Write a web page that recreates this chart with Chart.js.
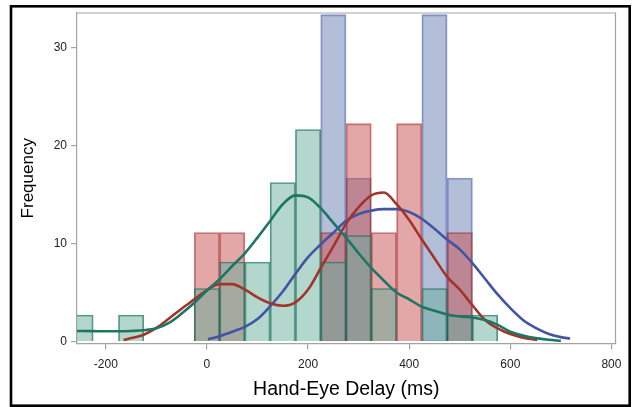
<!DOCTYPE html>
<html>
<head>
<meta charset="utf-8">
<script src="https://cdn.jsdelivr.net/npm/chart.js@4/dist/chart.umd.min.js"></script>
<style>
  html, body { margin: 0; padding: 0; background: #ffffff; }
  #wrap { width: 632px; height: 407px; position: relative; }
</style>
</head>
<body>
<div id="wrap"><canvas id="chart" width="632" height="407"></canvas></div>
<script>
// Histogram bins (centre of each 50 ms bin) and percent of trials per group
const binCenters = [-250, -200, -150, -100, -50, 0, 50, 100, 150, 200, 250, 300, 350, 400, 450, 500, 550];
const tealPct = [2.70, 0, 2.70, 0, 0, 5.41, 8.11, 8.11, 16.22, 21.62, 8.11, 10.81, 5.41, 0, 5.41, 2.70, 2.70];
const redPct  = [0, 0, 0, 0, 0, 11.11, 11.11, 0, 0, 0, 11.11, 22.22, 11.11, 22.22, 0, 11.11, 0];
const bluePct = [0, 0, 0, 0, 0, 0, 0, 0, 0, 0, 33.33, 16.67, 0, 0, 33.33, 16.67, 0];

// Density curves, sampled along the delay axis
const tealCurveX = [-257, -225, -200, -175, -150, -125, -100, -75, -50, -25, 0, 25, 50, 75, 100, 125, 150, 175, 200, 225, 250, 275, 300, 325, 350, 375, 400, 425, 450, 475, 500, 525, 550, 575, 600, 625, 650, 675, 700];
const tealCurveY = [1.07, 1.06, 1.05, 1.05, 1.08, 1.15, 1.35, 1.9, 2.85, 3.95, 5.2, 6.35, 7.7, 9.0, 10.6, 12.3, 14.0, 14.9, 14.7, 13.6, 12.1, 10.6, 9.0, 7.5, 6.2, 5.0, 4.3, 3.55, 3.15, 2.75, 2.55, 2.45, 2.2, 1.7, 1.0, 0.62, 0.35, 0.18, 0.08];

const redCurveX = [-165, -150, -125, -100, -75, -50, -25, 0, 25, 50, 75, 100, 125, 150, 175, 200, 225, 250, 275, 300, 325, 350, 375, 400, 425, 450, 475, 500, 525, 550, 575, 600, 625, 653];
const redCurveY = [0.15, 0.35, 0.7, 1.4, 2.35, 3.35, 4.3, 5.25, 5.85, 5.85, 5.3, 4.5, 3.9, 3.65, 4.0, 5.3, 7.5, 9.7, 12.0, 13.7, 14.9, 15.2, 14.0, 12.4, 10.4, 8.5, 6.6, 5.3, 3.7, 2.2, 1.35, 0.76, 0.4, 0.15];

const blueCurveX = [2, 25, 50, 75, 100, 125, 150, 175, 200, 225, 250, 275, 300, 325, 350, 375, 400, 425, 450, 475, 500, 525, 550, 575, 600, 625, 650, 675, 700, 718];
const blueCurveY = [0.22, 0.55, 1.0, 1.5, 2.3, 3.6, 5.1, 6.9, 8.6, 9.9, 11.1, 12.3, 13.0, 13.35, 13.5, 13.5, 13.2, 12.5, 11.5, 10.4, 9.4, 8.0, 6.4, 4.8, 3.4, 2.2, 1.4, 0.8, 0.45, 0.3];

// Axis ticks
const xTicks = [-200, 0, 200, 400, 600, 800];
const yTicks = [0, 10, 20, 30];

const toBars = (vals) => binCenters
  .map((c, i) => ({ x: c, y: vals[i] }))
  .filter(p => p.y > 0);
const toCurve = (xs, ys) => xs.map((x, i) => ({ x: x, y: ys[i] }));

const curveStyle = {
  type: 'line',
  pointRadius: 0,
  borderWidth: 2.6,
  fill: false,
  tension: 0.4,
  cubicInterpolationMode: 'monotone',
  clip: 0
};
const barStyle = {
  type: 'bar',
  grouped: false,
  borderWidth: 1.2,
  barPercentage: 1,
  categoryPercentage: 1,
  borderSkipped: 'bottom',
  clip: 0
};

// Frame around the plot area and the outer black border
const frames = {
  id: 'frames',
  afterDraw(chart) {
    const { ctx, chartArea: a } = chart;
    ctx.save();
    ctx.strokeStyle = '#a3a3a3';
    ctx.lineWidth = 1.2;
    ctx.beginPath();
    ctx.moveTo(a.left, a.top);
    ctx.lineTo(a.right, a.top);
    ctx.lineTo(a.right, a.bottom);
    ctx.stroke();
    ctx.strokeStyle = '#000000';
    ctx.lineWidth = 2.6;
    ctx.strokeRect(11.0, 6.3, 618.7, 399.4);
    ctx.restore();
  }
};

const tickFont = { family: 'Liberation Sans', size: 12 };

new Chart(document.getElementById('chart'), {
  type: 'bar',
  data: {
    datasets: [
      Object.assign({}, curveStyle, { label: 'Teal density', data: toCurve(tealCurveX, tealCurveY), borderColor: 'rgb(30,118,98)', order: 1 }),
      Object.assign({}, curveStyle, { label: 'Red density', data: toCurve(redCurveX, redCurveY), borderColor: 'rgb(163,52,42)', order: 2 }),
      Object.assign({}, curveStyle, { label: 'Blue density', data: toCurve(blueCurveX, blueCurveY), borderColor: 'rgb(68,84,165)', order: 3 }),
      Object.assign({}, barStyle, { label: 'Teal', data: toBars(tealPct), backgroundColor: 'rgba(103,174,156,0.5)', borderColor: 'rgba(20,105,85,0.7)', order: 4 }),
      Object.assign({}, barStyle, { label: 'Red', data: toBars(redPct), backgroundColor: 'rgba(200,80,80,0.5)', borderColor: 'rgba(160,30,30,0.6)', order: 5 }),
      Object.assign({}, barStyle, { label: 'Blue', data: toBars(bluePct), backgroundColor: 'rgba(103,125,180,0.5)', borderColor: 'rgba(60,80,170,0.6)', order: 6 })
    ]
  },
  options: {
    responsive: false,
    animation: false,
    events: [],
    layout: { padding: { left: 10, top: 13, right: 16.5, bottom: 4 } },
    plugins: { legend: { display: false }, tooltip: { enabled: false } },
    scales: {
      x: {
        type: 'linear',
        min: -257,
        max: 808,
        offset: false,
        afterBuildTicks: (s) => { s.ticks = xTicks.map(v => ({ value: v })); },
        afterFit: (s) => { s.height = 59.5; },
        ticks: { color: '#222222', font: tickFont, padding: 8, maxRotation: 0 },
        grid: { display: true, offset: false, drawOnChartArea: false, drawTicks: true, tickLength: 6, color: '#a3a3a3', lineWidth: 1.2 },
        border: { display: true, color: '#a3a3a3', width: 1.2 },
        title: { display: true, text: 'Hand-Eye Delay (ms)', color: '#000000', font: { family: 'Liberation Sans', size: 19.5 }, padding: { top: 0, bottom: 1.8 } }
      },
      y: {
        type: 'linear',
        min: -0.2,
        max: 33.5,
        afterBuildTicks: (s) => { s.ticks = yTicks.map(v => ({ value: v })); },
        afterFit: (s) => { s.width = 67; },
        ticks: { color: '#222222', font: tickFont, padding: 4 },
        grid: { display: true, offset: false, drawOnChartArea: false, drawTicks: true, tickLength: 6, color: '#a3a3a3', lineWidth: 1.2 },
        border: { display: true, color: '#a3a3a3', width: 1.2 },
        title: { display: true, text: 'Frequency', color: '#000000', font: { family: 'Liberation Sans', size: 17 }, padding: { top: 8.5, bottom: 0 } }
      }
    }
  },
  plugins: [frames]
});
</script>
</body>
</html>
